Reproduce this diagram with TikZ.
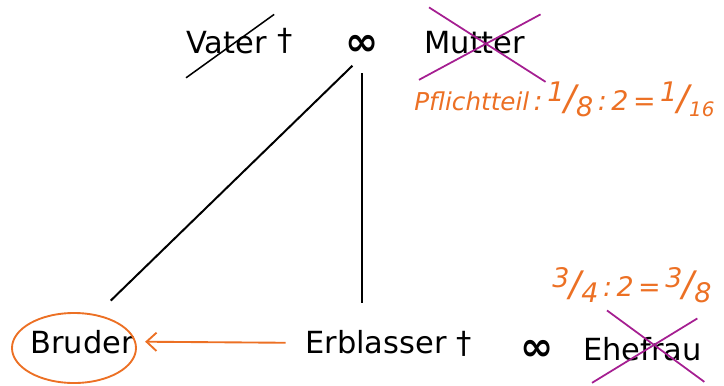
\documentclass[tikz,border=0pt]{standalone}
\usepackage{fontspec}
\setmainfont{DejaVu Sans}
\usetikzlibrary{arrows.meta}
\definecolor{handorange}{RGB}{236,112,36}
\definecolor{crossmagenta}{RGB}{165,30,145}
\newcommand{\handfrac}[2]{\raisebox{0.6ex}{#1}{\fontsize{30}{30}\selectfont/}\raisebox{-0.45ex}{#2}}

\begin{document}
\begin{tikzpicture}[
    x=0.03cm, y=-0.03cm,
    every node/.style={font=\fontsize{26}{30}\selectfont, inner sep=1pt},
    person/.style={anchor=base west},
    married/.style={anchor=base, font=\fontsize{34}{34}\selectfont\bfseries},
    link/.style={draw, line width=1.7pt},
    hand/.style={text=handorange, anchor=base west,
        font=\fontsize{23}{26}\selectfont\itshape},
    handline/.style={draw=handorange, line width=1.6pt},
    handarrow/.style={handline, -{Straight Barb[length=0.3cm, width=0.55cm]}},
    cross/.style={draw=crossmagenta, line width=1.5pt}
]
\useasboundingbox (0,0) rectangle (724,385);

% --- Eltern ---
\node[person] (vater) at (185,53) {Vater};
\node[person] (vdag) at (276,50) {†};
\node[married] (ehe1) at (362,55) {∞};
\node[person] (mutter) at (423,53) {Mutter};

% --- Kinder ---
\node[person] (bruder) at (29,353) {Bruder};
\node[person] (erblasser) at (304,353) {Erblasser †};
\node[married] (ehe2) at (537,360) {∞};
\node[person] (ehefrau) at (582,360) {Ehefrau};

% --- Quoten ---
\node[hand] (pflicht) at (413,110) {{\fontsize{21}{24}\selectfont Pflichtteil}\,:\,\handfrac{1}{8}\,:\,2\,=\,\handfrac{1}{\fontsize{17}{17}\selectfont 16}};
\node[hand] (quote) at (551,296) {\handfrac{3}{4}\,:\,2\,=\,\handfrac{3}{8}};

% --- Linien ---
\draw[link, shorten <=0.4cm, shorten >=1.2cm] (ehe1.south) -- (bruder.north);
\draw[link, shorten <=0.5cm, shorten >=0.75cm] (ehe1.south) -- (ehe1 |- erblasser.north);

% verstorben / weggefallen
\draw[link, line width=1.3pt] ([shift={(1,23)}]vater.south west) -- ([shift={(6,-15)}]vater.north east);
\draw[cross] ([shift={(-4,25)}]mutter.south west) -- ([shift={(14,-15)}]mutter.north east);
\draw[cross] ([shift={(6,-22)}]mutter.north west) -- ([shift={(19,27)}]mutter.south east);
\draw[cross] ([shift={(25,-25)}]ehefrau.north west) -- ([shift={(1,20)}]ehefrau.south east);
\draw[cross] ([shift={(-6,-17)}]ehefrau.north east) -- ([shift={(10,21)}]ehefrau.south west);

% Erbfolge
\coordinate (ring) at (74,348);
\draw[handline] (ring) ellipse [x radius=1.86cm, y radius=1.05cm];
\draw[handarrow, shorten <=0.55cm, shorten >=0.3cm] (erblasser.west) -- (bruder.east);

\end{tikzpicture}
\end{document}
